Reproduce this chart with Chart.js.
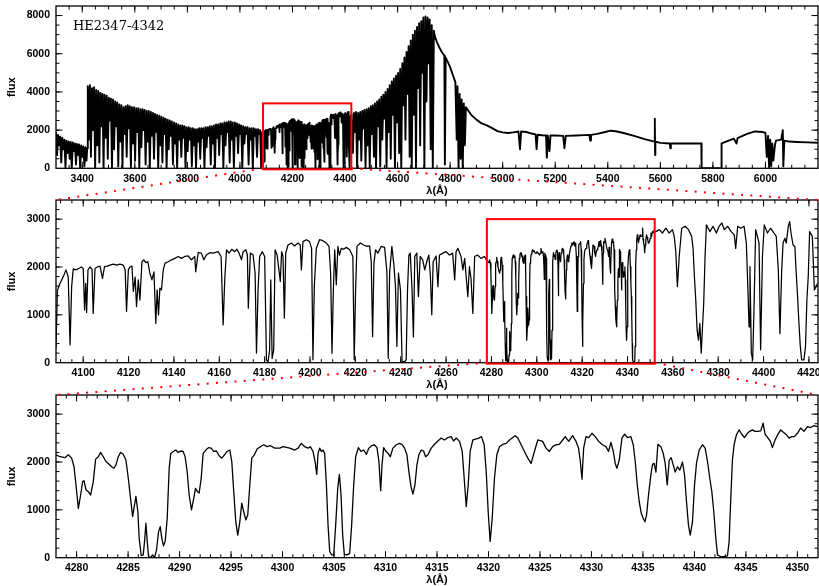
<!DOCTYPE html>
<html>
<head>
<meta charset="utf-8">
<script src="https://cdn.jsdelivr.net/npm/chart.js@4.4.0/dist/chart.umd.min.js"></script>
<style>
html, body { margin: 0; padding: 0; background: #fff; }
#wrap { position: relative; width: 819px; height: 586px; }
canvas { position: absolute; left: 0; }
</style>
</head>
<body>
<div id="wrap">
  <canvas id="c1" width="819" height="197" style="top:0px"></canvas>
  <canvas id="c2" width="819" height="193" style="top:197px"></canvas>
  <canvas id="c3" width="819" height="196" style="top:390px"></canvas>
  <canvas id="links" width="819" height="586" style="top:0px;pointer-events:none"></canvas>
</div>
<script>
// ---- spectrum of HE2347-4342 (wavelength in A, flux) ----

// blue end of the overview, 3300-4085
const blueWave = [3300, 3304, 3308, 3312, 3316, 3320, 3324, 3328, 3332, 3336,
  3340, 3344, 3348, 3352, 3356, 3360, 3364, 3368, 3372, 3376,
  3380, 3384, 3388, 3392, 3396, 3400, 3404, 3408, 3412, 3416, 3419,
  3421, 3425, 3429, 3433, 3437, 3441, 3445, 3449, 3453, 3457,
  3461, 3465, 3469, 3473, 3477, 3481, 3485, 3489, 3493, 3497,
  3501, 3505, 3509, 3513, 3517, 3521, 3525, 3529, 3533, 3537,
  3541, 3545, 3549, 3553, 3557, 3561, 3565, 3569, 3573, 3577,
  3581, 3585, 3589, 3593, 3597, 3601, 3605, 3609, 3613, 3617,
  3621, 3625, 3629, 3633, 3637, 3641, 3645, 3649, 3653, 3657,
  3661, 3665, 3669, 3673, 3677, 3681, 3685, 3689, 3693, 3697,
  3701, 3705, 3709, 3713, 3717, 3721, 3725, 3729, 3733, 3737,
  3741, 3745, 3749, 3753, 3757, 3761, 3765, 3769, 3773, 3777,
  3781, 3785, 3789, 3793, 3797, 3801, 3805, 3809, 3813, 3817,
  3821, 3825, 3829, 3833, 3837, 3841, 3845, 3849, 3853, 3857,
  3861, 3865, 3869, 3873, 3877, 3881, 3885, 3889, 3893, 3897,
  3901, 3905, 3909, 3913, 3917, 3921, 3925, 3929, 3933, 3937,
  3941, 3945, 3949, 3953, 3957, 3961, 3965, 3969, 3973, 3977,
  3981, 3985, 3989, 3993, 3997, 4001, 4005, 4009, 4013, 4017,
  4021, 4025, 4029, 4033, 4037, 4041, 4045, 4049, 4053, 4057,
  4061, 4065, 4069, 4073, 4077, 4081, 4085];
const blueFlux = [1900, 700, 1750, 1200, 1650, 300, 1600, 1000, 1500, 50,
  1450, 800, 1400, 500, 1380, 0, 1350, 900, 1300, 200,
  1280, 700, 1250, 0, 1200, 600, 1150, 100, 1100, 400, 1050,
  4300, 1500, 4350, 600, 4200, 2000, 4250, 0, 4100, 1200,
  4050, 300, 3950, 2200, 3900, 0, 3850, 1600, 3800, 500,
  3700, 2500, 3650, 0, 3600, 1000, 3500, 2200, 3450, 100,
  3350, 1400, 3300, 0, 3200, 1800, 3250, 600, 3300, 2100,
  3250, 0, 3200, 1300, 3200, 400, 3150, 1900, 3150, 0,
  3100, 1100, 3100, 2000, 3050, 200, 3000, 1400, 3000, 0,
  2950, 1700, 2900, 500, 2850, 1900, 2800, 0, 2750, 1200,
  2700, 300, 2650, 1800, 2600, 0, 2550, 1000, 2500, 1700,
  2450, 200, 2400, 1300, 2350, 0, 2300, 1500, 2250, 600,
  2250, 1600, 2200, 0, 2150, 900, 2150, 1500, 2100, 100,
  2100, 1200, 2050, 0, 2050, 1400, 2100, 500, 2100, 1600,
  2100, 0, 2150, 1100, 2150, 1700, 2200, 200, 2200, 1300,
  2250, 0, 2300, 1600, 2300, 700, 2350, 1800, 2350, 0,
  2400, 1200, 2400, 1900, 2450, 300, 2450, 1500, 2400, 0,
  2400, 1700, 2350, 800, 2300, 1800, 2250, 0, 2200, 1300,
  2150, 1800, 2150, 200, 2100, 1500, 2100, 0, 2100, 1700,
  2050, 600, 2050, 1800, 2000, 0, 1900];

// middle panel, 4088-4278
const midAWave = [4088.0, 4088.6, 4089.5, 4090.5, 4091.5, 4092.4, 4093.4, 4094.2, 4094.9, 4095.6,
  4096.8, 4098.0, 4099.2, 4100.0, 4100.6, 4101.1, 4101.5, 4102.1, 4103.0, 4103.9,
  4104.4, 4105.2, 4106.2, 4107.4, 4108.5, 4109.4, 4110.6, 4111.8, 4113.2, 4114.7,
  4116.2, 4117.6, 4118.5, 4119.1, 4119.9, 4120.6, 4121.5, 4122.1, 4122.9, 4123.5,
  4124.3, 4125.0, 4125.9, 4126.7, 4127.6, 4128.5, 4129.4, 4130.3, 4131.2, 4132.0,
  4132.6, 4133.2, 4133.8, 4134.5, 4135.3, 4136.1, 4137.5, 4138.9, 4140.4, 4141.9,
  4143.3, 4144.8, 4146.3, 4147.7, 4149.2, 4149.6, 4150.7, 4152.1, 4153.2, 4154.3,
  4155.8, 4157.3, 4159.5, 4160.8, 4161.7, 4162.4, 4163.2, 4164.3, 4165.5, 4166.8,
  4167.8, 4168.7, 4169.8, 4170.5, 4171.7, 4172.4, 4172.8, 4173.7, 4174.9, 4175.8,
  4176.4, 4177.1, 4177.8, 4179.0, 4180.0, 4180.8, 4181.5, 4182.2, 4182.7, 4183.3,
  4184.0, 4184.6, 4185.5, 4186.3, 4186.9, 4187.5, 4188.1, 4188.7, 4189.3, 4190.3,
  4191.8, 4193.2, 4194.7, 4195.7, 4196.2, 4196.9, 4198.4, 4199.8, 4200.7, 4201.3,
  4201.9, 4202.8, 4204.2, 4205.7, 4207.2, 4208.4, 4209.1, 4209.7, 4210.3, 4210.9,
  4211.6, 4212.3, 4213.0, 4213.8, 4214.8, 4216.0, 4217.5, 4218.9, 4219.5, 4220.1,
  4220.7, 4222.2, 4223.6, 4225.1, 4226.3, 4227.0, 4227.6, 4228.2, 4228.9, 4229.9,
  4231.4, 4232.9, 4233.9, 4234.5, 4235.1, 4236.1, 4237.0, 4237.7, 4238.3, 4239.0,
  4239.9, 4240.6, 4241.7, 4242.4, 4243.0, 4243.6, 4244.2, 4245.0, 4245.6, 4246.2,
  4247.1, 4247.8, 4248.6, 4249.7, 4250.6, 4251.5, 4252.4, 4253.1, 4253.7, 4254.3,
  4255.6, 4256.4, 4257.1, 4258.6, 4260.0, 4261.5, 4262.9, 4263.8, 4264.4, 4265.2,
  4266.6, 4267.4, 4268.2, 4269.6, 4270.3, 4271.0, 4271.8, 4272.6, 4273.9, 4275.4,
  4276.9, 4277.8];
const midAFlux = [300, 1500, 1630, 1730, 1830, 1940, 1790, 370, 1590, 1960,
  1940, 1970, 2000, 1970, 1100, 1660, 1050, 1940, 2000, 1950,
  1030, 1970, 2000, 2020, 1760, 2010, 2020, 2040, 2060, 2040,
  2060, 2040, 1940, 1070, 1940, 2000, 2020, 1490, 1790, 1170,
  1730, 1310, 2110, 2150, 2090, 2110, 1870, 1730, 1900, 820,
  1520, 1000, 1560, 1520, 1940, 2080, 2110, 2150, 2180, 2220,
  2180, 2220, 2230, 2150, 2220, 1900, 2300, 2290, 2150, 2250,
  2300, 2290, 2320, 2220, 790, 1730, 2360, 2290, 2370, 2320,
  2370, 2290, 2150, 2320, 2360, 2250, 1140, 2290, 2250, 1870,
  200, 1520, 2220, 2320, 2220, 60, 20, 270, 1730, 90,
  270, 2360, 2250, 1940, 1700, 2320, 2220, 930, 2290, 2460,
  2500, 2440, 2500, 2460, 1940, 2530, 2570, 2530, 2390, 60,
  1590, 2390, 2570, 2550, 2500, 2430, 1870, 200, 1520, 2360,
  1630, 2430, 2250, 2390, 2370, 2410, 2360, 2220, 60, 1520,
  2430, 2500, 2460, 2430, 2440, 2110, 540, 2080, 2360, 2290,
  2430, 2410, 1900, 90, 1870, 2430, 2040, 1590, 340, 1870,
  1520, 20, 20, 60, 1520, 2250, 2290, 1520, 540, 2220,
  2290, 1380, 2220, 2150, 1940, 2110, 2250, 1800, 1000, 2110,
  2230, 1590, 2250, 2290, 2320, 2250, 2290, 1730, 2320, 2390,
  2220, 1940, 2180, 1380, 2010, 1760, 1030, 2220, 2250, 2180,
  2220, 2150];

// bottom panel, 4278-4352
const zoomWave = [4278.00, 4278.39, 4278.87, 4279.20, 4279.52, 4279.75, 4279.94, 4280.17, 4280.39, 4280.59,
  4280.72, 4280.91, 4281.14, 4281.36, 4281.62, 4281.85, 4282.11, 4282.33, 4282.59, 4282.85,
  4283.08, 4283.40, 4283.63, 4283.82, 4284.05, 4284.27, 4284.53, 4284.79, 4285.02, 4285.24,
  4285.44, 4285.57, 4285.76, 4285.95, 4286.08, 4286.28, 4286.47, 4286.60, 4286.73, 4286.86,
  4286.99, 4287.18, 4287.38, 4287.57, 4287.76, 4287.96, 4288.12, 4288.28, 4288.44, 4288.60,
  4288.80, 4288.99, 4289.15, 4289.38, 4289.64, 4289.87, 4290.12, 4290.35, 4290.54, 4290.74,
  4290.93, 4291.16, 4291.35, 4291.55, 4291.74, 4291.90, 4292.10, 4292.29, 4292.55, 4292.81,
  4293.07, 4293.32, 4293.58, 4293.84, 4294.10, 4294.36, 4294.62, 4294.88, 4295.07, 4295.26,
  4295.46, 4295.65, 4295.85, 4296.04, 4296.23, 4296.43, 4296.62, 4296.82, 4297.01, 4297.27,
  4297.53, 4297.85, 4298.17, 4298.50, 4298.82, 4299.24, 4299.73,
  4300.05, 4300.70, 4301.18, 4301.51, 4301.83, 4302.15, 4302.48, 4302.70, 4302.96, 4303.16,
  4303.32, 4303.45, 4303.61, 4303.77, 4303.93, 4304.09, 4304.26, 4304.42, 4304.58, 4304.77,
  4304.97, 4305.16, 4305.36, 4305.52, 4305.68, 4305.84, 4306.00, 4306.26, 4306.52, 4306.71,
  4306.91, 4307.10, 4307.36, 4307.62, 4307.88, 4308.14, 4308.39, 4308.65, 4308.91, 4309.17,
  4309.36, 4309.53, 4309.66, 4309.82, 4310.01, 4310.24, 4310.46, 4310.72, 4311.05, 4311.37,
  4311.63, 4311.85, 4312.08, 4312.27, 4312.47, 4312.66, 4312.86, 4313.05, 4313.24, 4313.47,
  4313.70, 4313.89, 4314.12, 4314.44, 4314.76, 4315.09, 4315.41, 4315.73, 4316.06, 4316.38,
  4316.61, 4316.87, 4317.19, 4317.45, 4317.64, 4317.84, 4318.03, 4318.22, 4318.48, 4318.74,
  4319.06, 4319.32, 4319.58, 4319.78, 4319.97, 4320.16, 4320.36, 4320.58, 4320.81, 4321.07,
  4321.39, 4321.72, 4322.04, 4322.36, 4322.59, 4322.85, 4323.17, 4323.49, 4323.82, 4324.14,
  4324.46, 4324.79,
  4325.26, 4325.59, 4325.91, 4326.23, 4326.56, 4326.88, 4327.20, 4327.46, 4327.79, 4328.17,
  4328.50, 4328.75, 4328.92, 4329.08, 4329.24, 4329.47, 4329.72, 4330.05, 4330.37, 4330.70,
  4331.08, 4331.41, 4331.66, 4331.89, 4332.12, 4332.31, 4332.47, 4332.70, 4332.96, 4333.22,
  4333.51, 4333.83, 4334.06, 4334.25, 4334.45, 4334.64, 4334.83, 4335.03, 4335.19, 4335.35,
  4335.54, 4335.77, 4335.93, 4336.09, 4336.26, 4336.45, 4336.74, 4336.97, 4337.16, 4337.36,
  4337.55, 4337.74, 4337.94, 4338.13, 4338.36, 4338.58, 4338.84, 4339.04, 4339.23, 4339.42,
  4339.59, 4339.81, 4340.01, 4340.20, 4340.46, 4340.78, 4341.04, 4341.27, 4341.49, 4341.69,
  4341.88, 4342.08, 4342.24, 4342.56, 4342.88, 4343.21, 4343.37, 4343.53, 4343.69, 4343.85,
  4344.08, 4344.34, 4344.60, 4344.86, 4345.15, 4345.37, 4345.63, 4345.89, 4346.15, 4346.44,
  4346.67, 4346.86, 4347.12, 4347.38, 4347.57, 4347.83, 4348.09, 4348.38, 4348.64, 4348.93,
  4349.19, 4349.45, 4349.71, 4350.00, 4350.32, 4350.64, 4350.97, 4351.29, 4351.61, 4351.94];
const zoomFlux = [2150, 2110, 2090, 2150, 2080, 1900, 1520, 1030, 1310, 1590,
  1610, 1420, 1380, 1310, 1590, 2060, 2110, 2200, 2110, 2010,
  1970, 1900, 1870, 1940, 2110, 2200, 2160, 2040, 1660, 1240,
  860, 1030, 1280, 960, 400, 40, 60, 340, 720, 340,
  20, 0, 60, 0, 160, 540, 650, 400, 250, 340,
  820, 1870, 2180, 2220, 2250, 2200, 2230, 2220, 2110, 1800,
  1310, 1000, 1210, 1450, 1380, 1350, 1660, 2180, 2250, 2300,
  2290, 2220, 2230, 2130, 2080, 2150, 2220, 2250, 2010, 1380,
  750, 470, 750, 1140, 960, 790, 890, 1520, 2080, 2150,
  2270, 2320, 2360, 2320, 2340, 2290, 2290,
  2320, 2290, 2250, 2290, 2390, 2320, 2290, 2320, 2220, 2010,
  1740, 2180, 2290, 2220, 2250, 2180, 1520, 680, 130, 60,
  60, 680, 1450, 1740, 1310, 470, 70, 60, 90, 680,
  1520, 2110, 2300, 2220, 2250, 2160, 2290, 2340, 2360, 2300,
  2010, 1400, 1940, 2300, 2230, 2180, 2110, 2290, 2360, 2390,
  2360, 2290, 2150, 1800, 1490, 1330, 1520, 1940, 2150, 2250,
  2230, 2110, 2150, 2290, 2370, 2440, 2500, 2460, 2510, 2530,
  2440, 2500, 2430, 2220, 1660, 1070, 1520, 2220, 2460, 2480,
  2500, 2530, 2360, 1800, 960, 340, 820, 1660, 2150, 2320,
  2370, 2390, 2460, 2510, 2550, 2500, 2360, 2220, 2080, 1970,
  2220, 2460,
  2430, 2290, 2220, 2320, 2360, 2370, 2460, 2530, 2430, 2550,
  2430, 2290, 2010, 1640, 2290, 2530, 2510, 2600, 2530, 2430,
  2360, 2320, 2220, 2410, 2220, 1970, 1870, 2040, 2500, 2580,
  2510, 2530, 2360, 2010, 1520, 1170, 930, 820, 750, 890,
  1310, 1730, 1950, 1970, 1790, 2370, 2320, 2180, 1970, 1520,
  2040, 2090, 1940, 1790, 1900, 1830, 2000, 1730, 1170, 680,
  470, 750, 1520, 1970, 2250, 2360, 2290, 2010, 1660, 1380,
  960, 400, 60, 20, 20, 40, 340, 1240, 2040, 2360,
  2570, 2670, 2580, 2510, 2600, 2640, 2670, 2640, 2640, 2650,
  2810, 2580, 2510, 2430, 2300, 2460, 2570, 2670, 2620, 2570,
  2500, 2530, 2530, 2600, 2710, 2640, 2740, 2720, 2760, 2740];

// middle panel, 4352-4424
const midBWave = [4352.5, 4354.0, 4355.4, 4356.9, 4358.4, 4359.8, 4360.6, 4361.3, 4362.0, 4362.8,
  4363.9, 4365.4, 4366.9, 4368.3, 4368.9, 4369.5, 4370.1, 4370.7, 4371.3, 4371.9,
  4372.5, 4373.0, 4373.6, 4374.2, 4374.8, 4376.3, 4377.7, 4379.2, 4380.4, 4381.6,
  4382.7, 4384.2, 4385.7, 4387.1, 4387.7, 4388.6, 4389.9, 4391.4, 4392.4, 4393.0,
  4393.6, 4394.0, 4394.6, 4395.2, 4395.8, 4396.5, 4397.3, 4398.0, 4398.7, 4399.5,
  4400.3, 4401.7, 4403.1, 4404.6, 4405.6, 4406.5, 4407.2, 4408.0, 4408.6, 4409.4,
  4410.0, 4410.9, 4411.5, 4412.1, 4413.0, 4413.8, 4414.4, 4415.0, 4415.6, 4416.2,
  4416.8, 4417.8, 4418.5, 4419.1, 4419.7, 4420.3, 4421.5, 4422.4, 4423.2, 4423.8];
const midBFlux = [2740, 2780, 2710, 2810, 2710, 2780, 2640, 2320, 1590, 2220,
  2810, 2850, 2780, 2640, 2390, 1800, 1310, 680, 470, 820,
  200, 680, 1240, 2220, 2880, 2740, 2850, 2710, 2850, 2920,
  2780, 2850, 2740, 2670, 2390, 2850, 2810, 2850, 2500, 1660,
  750, 2010, 200, 60, 1170, 2780, 2640, 2500, 270, 2220,
  2880, 2710, 2810, 2710, 2640, 1940, 610, 1940, 2500, 2600,
  2500, 2850, 2950, 2710, 2460, 2430, 1870, 1380, 820, 340,
  60, 60, 340, 1310, 1800, 2740, 2640, 1520, 1590, 1660];

// red end of the overview, 4426-6200
const redWave = [4426, 4430, 4434, 4438, 4442, 4446, 4450, 4454, 4458, 4462,
  4466, 4470, 4474, 4478, 4482, 4486, 4490, 4494, 4498, 4502,
  4506, 4510, 4514, 4518, 4522, 4526, 4530, 4534, 4538, 4542,
  4546, 4550, 4554, 4558, 4562, 4566, 4570, 4574, 4578, 4582,
  4586, 4590, 4594, 4598, 4602, 4606, 4610, 4614, 4618, 4622,
  4626, 4630, 4634, 4638, 4642, 4646, 4650, 4654, 4658, 4662,
  4666, 4670, 4674, 4678, 4682, 4686, 4690, 4694, 4698, 4702,
  4706, 4710, 4714, 4718, 4722, 4726, 4730, 4734, 4738, 4742,
  4750, 4760, 4770, 4778, 4780, 4783, 4790, 4800, 4810, 4820,
  4825, 4828, 4832, 4836, 4840, 4844, 4848, 4852, 4856, 4860,
  4870, 4880, 4900, 4920, 4940, 4960, 4980, 5000, 5020, 5040,
  5060, 5066, 5070, 5090, 5110, 5125, 5129, 5133, 5150, 5165,
  5168, 5172, 5178, 5182, 5200, 5230, 5235, 5240, 5280, 5310,
  5330, 5333, 5336, 5360, 5390, 5410, 5430, 5460, 5500, 5540,
  5570, 5578, 5579, 5580, 5581, 5600, 5636, 5638, 5640, 5700,
  5756, 5757, 5832, 5833, 5860, 5880, 5890, 5894, 5900, 5930,
  5960, 5990, 6000, 6005, 6010, 6014, 6018, 6022, 6026, 6030,
  6036, 6040, 6060, 6066, 6068, 6072, 6090, 6120, 6160, 6200];
const redFlux = [2850, 800, 2900, 1900, 2950, 0, 2900, 1500, 2950, 400,
  3000, 2100, 3050, 0, 3100, 1200, 3150, 0, 3250, 1800,
  3300, 600, 3400, 0, 3500, 2200, 3600, 100, 3750, 1500,
  3850, 2600, 4000, 0, 4150, 1900, 4350, 500, 4550, 2800,
  4700, 0, 4850, 2400, 5000, 800, 5200, 0, 5500, 3300,
  5800, 1500, 6100, 3900, 6400, 600, 6700, 0, 7000, 2800,
  7200, 0, 7400, 4200, 7600, 1200, 7700, 5000, 7900, 0,
  7950, 3500, 7900, 5500, 7800, 1000, 7500, 0, 7200, 6900,
  6600, 6300, 6050, 5900, 200, 5800, 5600, 5300, 4900, 4500,
  1500, 4300, 0, 3900, 500, 3600, 0, 3400, 1200, 3200,
  3000, 2800, 2550, 2350, 2250, 2100, 1950, 1880, 1850, 1880,
  1930, 1000, 1930, 1900, 1820, 1780, 1000, 1760, 1730, 1720,
  560, 1710, 900, 1720, 1720, 1700, 1050, 1700, 1720, 1740,
  1750, 1450, 1750, 1800, 1900, 1970, 1940, 1850, 1700, 1530,
  1420, 1400, 2600, 700, 1400, 1330, 1300, 1050, 1300, 1300,
  1300, 0, 0, 1300, 1450, 1550, 1300, 1580, 1620, 1800,
  1930, 1900, 1850, 600, 1700, 0, 1500, 100, 1300, 400,
  1200, 1450, 1500, 2000, 100, 1450, 1400, 1380, 1360, 1340];

// tick labels
const overviewXTicks = [3400, 3600, 3800, 4000, 4200, 4400, 4600, 4800, 5000, 5200, 5400, 5600, 5800, 6000];
const overviewYTicks = [0, 2000, 4000, 6000, 8000];
const midXTicks = [4100, 4120, 4140, 4160, 4180, 4200, 4220, 4240, 4260, 4280, 4300, 4320, 4340, 4360, 4380, 4400, 4420];
const zoomXTicks = [4280, 4285, 4290, 4295, 4300, 4305, 4310, 4315, 4320, 4325, 4330, 4335, 4340, 4345, 4350];
const fluxTicks = [0, 1000, 2000, 3000];

const objectName = 'HE2347-4342';
const midRange = [4088, 4424];
const zoomRange = [4278, 4352];

const toPts = (w, f) => w.map((v, i) => ({ x: v, y: f[i] }));

const fullWave = blueWave.concat(midAWave, zoomWave, midBWave, redWave);
const fullFlux = blueFlux.concat(midAFlux, zoomFlux, midBFlux, redFlux);
const midWave = midAWave.concat(zoomWave, midBWave);
const midFlux = midAFlux.concat(zoomFlux, midBFlux);

const tickFont = 'bold 10.5px "Liberation Sans", Arial, sans-serif';
const titleFont = 'bold 11px "Liberation Sans", Arial, sans-serif';

// draws the framed box, inward ticks on four sides, labels and red zoom box
function makeAxes(p) {
  return {
    id: 'axes' + p.id,
    afterDatasetsDraw(chart) {
      const { ctx, chartArea: a, scales: { x, y } } = chart;
      ctx.save();
      ctx.strokeStyle = '#000';
      ctx.lineWidth = 1;
      ctx.beginPath();
      const xTick = (v, len) => {
        const px = x.getPixelForValue(v);
        ctx.moveTo(px, a.bottom); ctx.lineTo(px, a.bottom - len);
        ctx.moveTo(px, a.top); ctx.lineTo(px, a.top + len);
      };
      const yTick = (v, len) => {
        const py = y.getPixelForValue(v);
        ctx.moveTo(a.left, py); ctx.lineTo(a.left + len, py);
        ctx.moveTo(a.right, py); ctx.lineTo(a.right - len, py);
      };
      for (let v = Math.ceil(p.xmin / p.xMinor) * p.xMinor; v < p.xmax; v += p.xMinor) {
        if (v > p.xmin) xTick(v, 3.5);
      }
      p.xTicks.forEach(v => xTick(v, 6.5));
      for (let v = p.yMinor; v < p.ymax; v += p.yMinor) yTick(v, 3.5);
      p.yTicks.forEach(v => { if (v > 0) yTick(v, 6.5); });
      ctx.stroke();

      ctx.lineWidth = 1.3;
      ctx.strokeRect(a.left, a.top, a.right - a.left, a.bottom - a.top);

      ctx.fillStyle = '#000';
      ctx.font = tickFont;
      ctx.textAlign = 'center';
      ctx.textBaseline = 'middle';
      p.xTicks.forEach(v => ctx.fillText(String(v), x.getPixelForValue(v), a.bottom + 10.5));
      ctx.textAlign = 'right';
      p.yTicks.forEach(v => ctx.fillText(String(v), a.left - 6, y.getPixelForValue(v)));

      ctx.font = titleFont;
      ctx.textAlign = 'center';
      ctx.fillText('λ(Å)', (a.left + a.right) / 2, a.bottom + 22.5);
      ctx.save();
      ctx.translate(12, (a.top + a.bottom) / 2);
      ctx.rotate(-Math.PI / 2);
      ctx.fillText('flux', 0, 0);
      ctx.restore();

      if (p.name) {
        ctx.font = '13px "DejaVu Serif", serif';
        ctx.textAlign = 'left';
        ctx.textBaseline = 'alphabetic';
        ctx.fillText(p.name, 73, 29.5);
      }

      if (p.box) {
        const x0 = x.getPixelForValue(p.box[0]), x1 = x.getPixelForValue(p.box[1]);
        const y0 = y.getPixelForValue(p.box[3]), y1 = y.getPixelForValue(0);
        ctx.strokeStyle = '#ff0000';
        ctx.lineWidth = 2;
        ctx.strokeRect(x0, y0, x1 - x0, y1 - y0 + 1);
      }
      ctx.restore();
    }
  };
}

const panels = [
  { id: 'c1', top: 0, xmin: 3300, xmax: 6200, ymax: 8500, xTicks: overviewXTicks, xMinor: 50,
    yTicks: overviewYTicks, yMinor: 500, pad: { left: 56, right: 1, top: 6, bottom: 28.7 },
    wave: fullWave, flux: fullFlux, lw: 1.9, box: [midRange[0], midRange[1], 0, 3400], name: objectName },
  { id: 'c2', top: 197, xmin: midRange[0], xmax: midRange[1], ymax: 3400, xTicks: midXTicks, xMinor: 5,
    yTicks: fluxTicks, yMinor: 200, pad: { left: 56, right: 1, top: 3, bottom: 27.3 },
    wave: midWave, flux: midFlux, lw: 1.25, box: [zoomRange[0], zoomRange[1], 0, 3000] },
  { id: 'c3', top: 390, xmin: zoomRange[0], xmax: zoomRange[1], ymax: 3400, xTicks: zoomXTicks, xMinor: 1,
    yTicks: fluxTicks, yMinor: 200, pad: { left: 56, right: 1, top: 5, bottom: 28.3 },
    wave: zoomWave, flux: zoomFlux, lw: 1.3 }
];

const charts = panels.map(p => new Chart(document.getElementById(p.id), {
  type: 'line',
  data: {
    datasets: [{
      data: toPts(p.wave, p.flux),
      borderColor: '#000',
      borderWidth: p.lw,
      borderJoinStyle: 'round',
      pointRadius: 0,
      tension: 0,
      fill: false
    }]
  },
  options: {
    responsive: false,
    devicePixelRatio: 1,
    animation: false,
    events: [],
    parsing: false,
    layout: { padding: p.pad },
    plugins: { legend: { display: false }, tooltip: { enabled: false } },
    scales: {
      x: { type: 'linear', min: p.xmin, max: p.xmax, display: false },
      y: { type: 'linear', min: 0, max: p.ymax, display: false }
    }
  },
  plugins: [makeAxes(p)]
}));

// red dotted connectors between a box and the panel below it
const lk = document.getElementById('links').getContext('2d');
lk.strokeStyle = '#ff0000';
lk.lineWidth = 2;
lk.setLineDash([2, 7.3]);
function connect(upper, upTop, lower, lowTop, range) {
  const xa = upper.scales.x.getPixelForValue(range[0]);
  const xb = upper.scales.x.getPixelForValue(range[1]);
  const yb = upper.chartArea.bottom + upTop;
  const la = lower.chartArea;
  lk.beginPath();
  lk.moveTo(xa, yb); lk.lineTo(la.left, la.top + lowTop);
  lk.moveTo(xb, yb); lk.lineTo(la.right, la.top + lowTop);
  lk.stroke();
}
connect(charts[0], panels[0].top, charts[1], panels[1].top, midRange);
connect(charts[1], panels[1].top, charts[2], panels[2].top, zoomRange);
</script>
</body>
</html>
